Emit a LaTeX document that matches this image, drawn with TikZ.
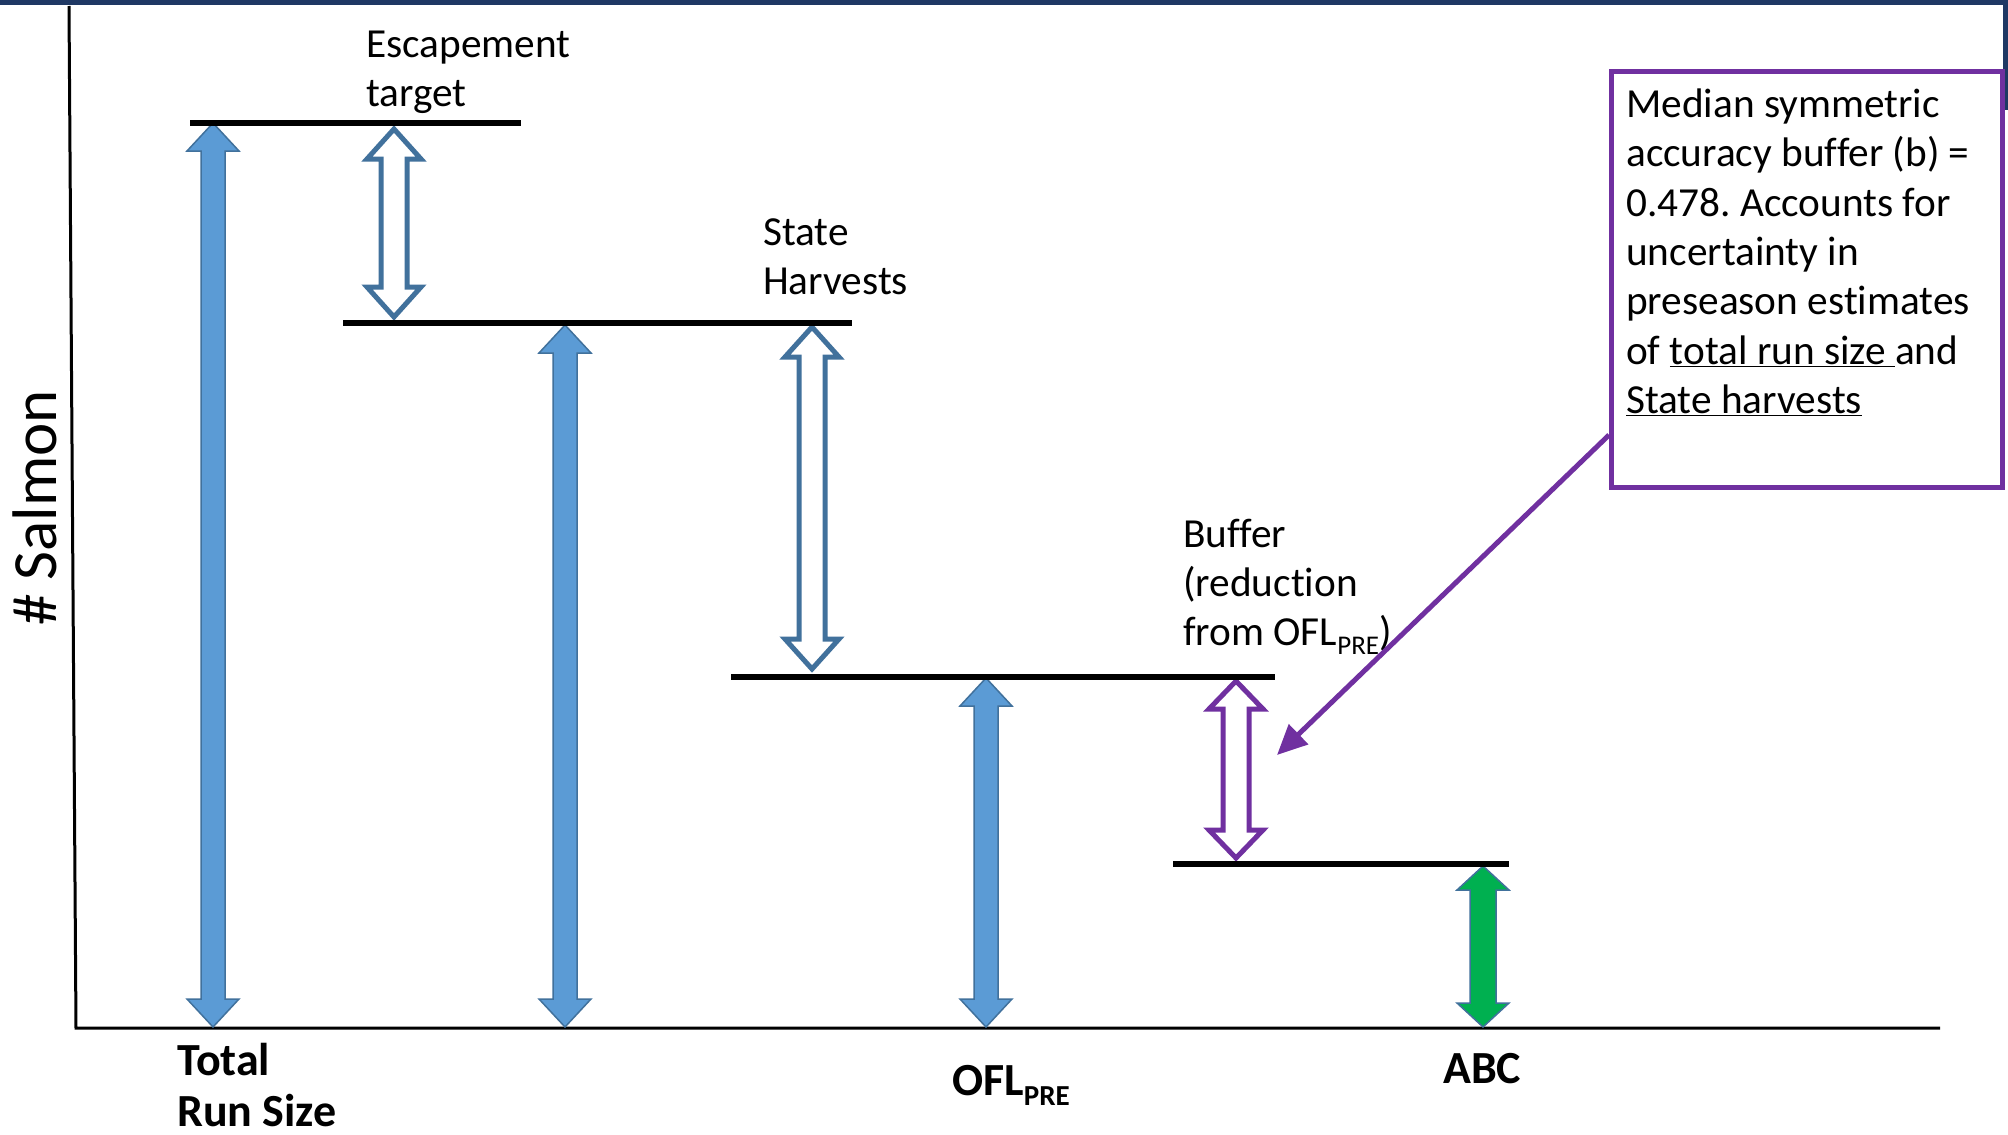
\documentclass[tikz,border=0pt]{standalone}
\usepackage{fontspec}
\setmainfont{Carlito}[Ligatures=NoCommon]
\frenchspacing
\usetikzlibrary{arrows.meta}
\definecolor{cNavy}{HTML}{1F3864}
\definecolor{cBlue}{HTML}{5B9BD5}
\definecolor{cBlueEdge}{HTML}{41719C}
\definecolor{cGreen}{HTML}{00B050}
\definecolor{cPurple}{HTML}{7030A0}
% #1 style, #2 x, #3 top y, #4 bottom y, #5 shaft half width, #6 head half width, #7 head length
\newcommand{\udarr}[7]{%
  \draw[#1] (#2,#3) -- ({#2+#6},{#3+#7}) -- ({#2+#5},{#3+#7}) -- ({#2+#5},{#4-#7})
    -- ({#2+#6},{#4-#7}) -- (#2,#4) -- ({#2-#6},{#4-#7}) -- ({#2-#5},{#4-#7})
    -- ({#2-#5},{#3+#7}) -- ({#2-#6},{#3+#7}) -- cycle;}
\begin{document}
\begin{tikzpicture}[x=1pt,y=-1pt,
  hline/.style={line width=6pt, black},
  axisline/.style={line width=3pt, black},
  filledarr/.style={fill=cBlue, draw=cBlueEdge, line width=1.5pt, line join=miter},
  greenarr/.style={fill=cGreen, draw=cBlueEdge, line width=1.5pt, line join=miter},
  hollowarr/.style={fill=white, draw=cBlueEdge, line width=5pt, line join=miter},
  purplearr/.style={fill=white, draw=cPurple, line width=5pt, line join=miter},
  lbl/.style={anchor=base west, inner sep=0pt, font=\fontsize{41.3}{49}\selectfont},
  blbl/.style={anchor=base west, inner sep=0pt, font=\bfseries\fontsize{46}{52}\selectfont}]
\useasboundingbox (0,0) rectangle (2008,1135);
\fill[white] (0,0) rectangle (2008,1135);
% frame bits
\fill[cNavy] (0,0) rectangle (2008,5);
\fill[cNavy] (2003,0) rectangle (2008,110);
% axes
\coordinate (ytop) at (69,6);
\coordinate (origin) at (76,1028);
\coordinate (xend) at (1940,1028);
\draw[axisline] (ytop) -- (origin) -- (xend);
\node[rotate=90, anchor=base, inner sep=0pt, font=\fontsize{63}{70}\selectfont] (ylab) at (56,508) {\# Salmon};
% block arrows
\udarr{filledarr}{213}{123}{1027}{12}{26}{28}
\udarr{filledarr}{565}{325}{1027}{12}{26}{28}
\udarr{filledarr}{986}{678}{1027}{12}{26}{28}
\udarr{greenarr}{1483}{866}{1027}{13}{26}{24}
\udarr{hollowarr}{394}{129}{317}{13}{27}{30}
\udarr{hollowarr}{812}{327}{669}{13}{27}{30}
\udarr{purplearr}{1236}{681}{858}{13}{27}{28}
% level lines
\draw[hline] (190,123) -- (521,123);
\draw[hline] (343,323) -- (852,323);
\draw[hline] (731,677) -- (1275,677);
\draw[hline] (1173,864) -- (1509,864);
% labels
\node[lbl] (esc1) at (366,57) {Escapement};
\node[lbl] (esc2) at (366,106) {target};
\node[lbl] (sh1) at (763,245) {State};
\node[lbl] (sh2) at (763,294) {Harvests};
\node[lbl] (bf1) at (1183,547) {Buffer};
\node[lbl] (bf2) at (1183,596) {(reduction};
\node[lbl] (bf3) at (1183,645) {from OFL\raisebox{-9pt}{\fontsize{27}{27}\selectfont PRE})};
\node[blbl] (trs1) at (177,1075) {Total};
\node[blbl] (trs2) at (177,1126) {Run Size};
\node[blbl] (ofl) at (952,1095) {OFL\raisebox{-10pt}{\fontsize{29}{29}\selectfont PRE}};
\node[blbl] (abc) at (1443,1083) {ABC};
% callout
\coordinate (cstart) at (1609,435);
\coordinate (ctip) at (1277,755);
\draw[cPurple, line width=5pt, -{Triangle[length=30pt,width=27pt]}] (cstart) -- (ctip);
\node[draw=cPurple, line width=5pt, fill=white, inner sep=0pt, minimum width=391pt, minimum height=416pt, anchor=north west] (box) at (1608.5,68.5) {};
\node[lbl] (t1) at (1626,117) {Median symmetric};
\node[lbl] (t2) at (1626,166) {accuracy buffer (b) =};
\node[lbl] (t3) at (1626,216) {0.478. Accounts for};
\node[lbl] (t4) at (1626,265) {uncertainty in};
\node[lbl] (t5) at (1626,314) {preseason estimates};
\node[lbl] (t6) at (1626,364) {of \underline{total run size\ }and};
\node[lbl] (t7) at (1626,413) {\underline{State harvests}};
\end{tikzpicture}
\end{document}
